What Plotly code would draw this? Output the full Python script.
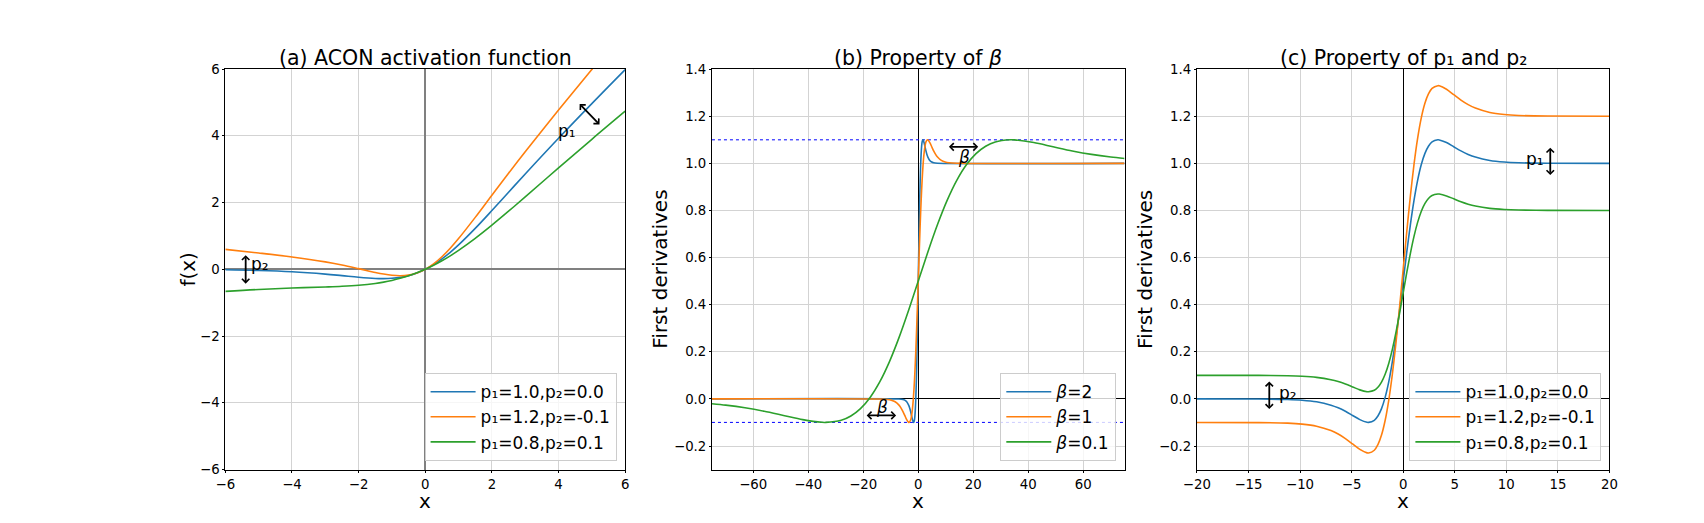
import plotly.graph_objects as go

# ---------------- data ----------------
# (a) ACON activation function f(x)
x_a = [-6, -5, -4, -3, -2.5, -2, -1.5, -1.25, -1, -0.75, -0.5, -0.25, 0,
       0.25, 0.5, 0.75, 1, 1.5, 2, 2.5, 3, 4, 5, 6]
f_p1_10 = [-0.0148, -0.0335, -0.0720, -0.1423, -0.1897, -0.2384, -0.2736, -0.2784,
           -0.2689, -0.2406, -0.1888, -0.1095, 0, 0.1406, 0.3112, 0.5094, 0.7311,
           1.2264, 1.7616, 2.3104, 2.8577, 3.9280, 4.9666, 5.9852]
f_p1_12 = [0.5968, 0.4902, 0.3715, 0.2226, 0.1287, 0.0202, -0.0929, -0.1423,
           -0.1784, -0.1920, -0.1729, -0.1113, 0, 0.1637, 0.3771, 0.6330, 0.9216,
           1.5571, 2.2202, 2.8787, 3.5226, 4.7715, 5.9902, 7.1968]
f_p1_08 = [-0.6620, -0.6026, -0.5605, -0.5291, -0.5091, -0.4770, -0.4222, -0.3824,
           -0.3323, -0.2701, -0.1947, -0.1049, 0, 0.1201, 0.2553, 0.4049, 0.5677,
           0.9278, 1.3231, 1.7409, 2.1709, 3.0395, 3.8974, 4.7380]

# (b) first derivatives for different beta
x_b_beta2 = [-75, -7, -5.6, -4.9, -4.2, -3.5, -3.15, -2.8, -2.45, -2.1, -1.75, -1.68,
             -1.4, -1.225, -1.05, -0.875, -0.7, -0.525, -0.35, -0.175, 0, 0.175, 0.35,
             0.525, 0.7, 0.875, 1.05, 1.225, 1.4, 1.68, 1.75, 2.1, 2.45, 2.8, 3.15,
             3.5, 4.2, 4.9, 5.6, 7, 75]
d_beta2 = [0.0, -0.0005, -0.0024, -0.0055, -0.0123, -0.0266, -0.0379, -0.0527, -0.0703,
           -0.0881, -0.0994, -0.0998, -0.0908, -0.0727, -0.0413, 0.0063, 0.0723, 0.1574,
           0.2600, 0.3763, 0.5, 0.6237, 0.7400, 0.8426, 0.9277, 0.9937, 1.0413, 1.0727,
           1.0908, 1.0998, 1.0994, 1.0881, 1.0703, 1.0527, 1.0379, 1.0266, 1.0123,
           1.0055, 1.0024, 1.0005, 1.0]
x_b_beta1 = [-75, -14, -11.2, -9.8, -8.4, -7, -6.3, -5.6, -4.9, -4.2, -3.5, -3.36,
             -2.8, -2.45, -2.1, -1.75, -1.4, -1.05, -0.7, -0.35, 0, 0.35, 0.7, 1.05,
             1.4, 1.75, 2.1, 2.45, 2.8, 3.36, 3.5, 4.2, 4.9, 5.6, 6.3, 7, 8.4, 9.8,
             11.2, 14, 75]
d_beta1 = [0.0, -0.0005, -0.0024, -0.0055, -0.0123, -0.0266, -0.0379, -0.0527, -0.0703,
           -0.0881, -0.0994, -0.0998, -0.0908, -0.0727, -0.0413, 0.0063, 0.0723, 0.1574,
           0.2600, 0.3763, 0.5, 0.6237, 0.7400, 0.8426, 0.9277, 0.9937, 1.0413, 1.0727,
           1.0908, 1.0998, 1.0994, 1.0881, 1.0703, 1.0527, 1.0379, 1.0266, 1.0123,
           1.0055, 1.0024, 1.0005, 1.0]
x_b_beta01 = [-75, -70, -63, -56, -49, -42, -35, -33.6, -28, -24.5, -21, -17.5, -14,
              -10.5, -7, -3.5, 0, 3.5, 7, 10.5, 14, 17.5, 21, 24.5, 28, 33.6, 35, 42,
              49, 56, 63, 70, 75]
d_beta01 = [-0.0203, -0.0266, -0.0379, -0.0527, -0.0703, -0.0881, -0.0994, -0.0998,
            -0.0908, -0.0727, -0.0413, 0.0063, 0.0723, 0.1574, 0.2600, 0.3763, 0.5,
            0.6237, 0.7400, 0.8426, 0.9277, 0.9937, 1.0413, 1.0727, 1.0908, 1.0998,
            1.0994, 1.0881, 1.0703, 1.0527, 1.0379, 1.0266, 1.0203]
bound_x = [-75, 75]
upper_bound = [1.0998, 1.0998]
lower_bound = [-0.0998, -0.0998]

# (c) first derivatives for different p1, p2
x_c = [-20, -14, -11.2, -9.8, -8.4, -7, -6.3, -5.6, -4.9, -4.2, -3.5, -3.36, -2.8,
       -2.45, -2.1, -1.75, -1.4, -1.05, -0.7, -0.35, 0, 0.35, 0.7, 1.05, 1.4, 1.75,
       2.1, 2.45, 2.8, 3.36, 3.5, 4.2, 4.9, 5.6, 6.3, 7, 8.4, 9.8, 11.2, 14, 20]
d_p1_10 = [0.0, -0.0005, -0.0024, -0.0055, -0.0123, -0.0266, -0.0379, -0.0527, -0.0703,
           -0.0881, -0.0994, -0.0998, -0.0908, -0.0727, -0.0413, 0.0063, 0.0723, 0.1574,
           0.2600, 0.3763, 0.5, 0.6237, 0.7400, 0.8426, 0.9277, 0.9937, 1.0413, 1.0727,
           1.0908, 1.0998, 1.0994, 1.0881, 1.0703, 1.0527, 1.0379, 1.0266, 1.0123,
           1.0055, 1.0024, 1.0005, 1.0]
d_p1_12 = [-0.1, -0.1007, -0.1031, -0.1072, -0.1160, -0.1346, -0.1493, -0.1685, -0.1914,
           -0.2145, -0.2292, -0.2297, -0.2180, -0.1945, -0.1537, -0.0918, -0.0060, 0.1046,
           0.2380, 0.3892, 0.55, 0.7108, 0.8620, 0.9954, 1.1060, 1.1918, 1.2537, 1.2945,
           1.3180, 1.3297, 1.3292, 1.3145, 1.2914, 1.2685, 1.2493, 1.2346, 1.2160,
           1.2072, 1.2031, 1.2007, 1.2]
d_p1_08 = [0.1, 0.0997, 0.0983, 0.0962, 0.0914, 0.0814, 0.0735, 0.0631, 0.0508, 0.0383,
           0.0304, 0.0301, 0.0364, 0.0491, 0.0711, 0.1044, 0.1506, 0.2102, 0.2820, 0.3634,
           0.45, 0.5366, 0.6180, 0.6898, 0.7494, 0.7956, 0.8289, 0.8509, 0.8636, 0.8699,
           0.8696, 0.8617, 0.8492, 0.8369, 0.8265, 0.8186, 0.8086, 0.8039, 0.8017,
           0.8004, 0.8]

p_labels = ["p₁=1.0,p₂=0.0", "p₁=1.2,p₂=-0.1", "p₁=0.8,p₂=0.1"]
beta_labels = ["<i>β</i>=2", "<i>β</i>=1", "<i>β</i>=0.1"]
colors = ["#1f77b4", "#ff7f0e", "#2ca02c"]
FONT = "DejaVu Sans"

fig = go.Figure()

# (a)
for y, name, c in zip([f_p1_10, f_p1_12, f_p1_08], p_labels, colors):
    fig.add_trace(go.Scatter(x=x_a, y=y, name=name, mode="lines",
                             line=dict(color=c, width=1.6, shape="spline"),
                             xaxis="x", yaxis="y", legend="legend"))

# (b) dotted bounds
for yb in [upper_bound, lower_bound]:
    fig.add_trace(go.Scatter(x=bound_x, y=yb, mode="lines", showlegend=False,
                             line=dict(color="blue", width=1, dash="dot"),
                             xaxis="x2", yaxis="y2", hoverinfo="skip"))
for xs, y, name, c in zip([x_b_beta2, x_b_beta1, x_b_beta01],
                          [d_beta2, d_beta1, d_beta01], beta_labels, colors):
    fig.add_trace(go.Scatter(x=xs, y=y, name=name, mode="lines",
                             line=dict(color=c, width=1.6, shape="spline", smoothing=0.8),
                             xaxis="x2", yaxis="y2", legend="legend2"))

# (c)
for y, name, c in zip([d_p1_10, d_p1_12, d_p1_08], p_labels, colors):
    fig.add_trace(go.Scatter(x=x_c, y=y, name=name, mode="lines",
                             line=dict(color=c, width=1.6, shape="spline", smoothing=0.8),
                             xaxis="x3", yaxis="y3", legend="legend3"))

dom_y = [0.1052, 0.8935]
dom_x = [[0.1209, 0.3586], [0.4102, 0.6555], [0.6985, 0.9438]]

axis_style = dict(showline=True, linecolor="black", linewidth=1, mirror=True,
                  ticks="outside", ticklen=2, tickwidth=1, tickcolor="black",
                  showgrid=True, gridcolor="#d3d3d3", gridwidth=1,
                  tickfont=dict(family=FONT, size=13.3, color="black"))

fig.update_layout(
    width=1704, height=523,
    margin=dict(l=0, r=0, t=0, b=0),
    paper_bgcolor="white", plot_bgcolor="white",
    font=dict(family=FONT, color="black"),
    xaxis=dict(domain=dom_x[0], anchor="y", range=[-6, 6], tickvals=[-6, -4, -2, 0, 2, 4, 6],
               zeroline=True, zerolinecolor="#808080", zerolinewidth=2, **axis_style),
    yaxis=dict(domain=dom_y, anchor="x", range=[-6, 6], tickvals=[-6, -4, -2, 0, 2, 4, 6],
               zeroline=True, zerolinecolor="#808080", zerolinewidth=2, **axis_style),
    xaxis2=dict(domain=dom_x[1], anchor="y2", range=[-75, 75],
                tickvals=[-60, -40, -20, 0, 20, 40, 60],
                zeroline=True, zerolinecolor="black", zerolinewidth=1, **axis_style),
    yaxis2=dict(domain=dom_y, anchor="x2", range=[-0.3, 1.4],
                tickvals=[-0.2, 0, 0.2, 0.4, 0.6, 0.8, 1.0, 1.2, 1.4], tickformat=".1f",
                zeroline=True, zerolinecolor="black", zerolinewidth=1, **axis_style),
    xaxis3=dict(domain=dom_x[2], anchor="y3", range=[-20, 20],
                tickvals=[-20, -15, -10, -5, 0, 5, 10, 15, 20],
                zeroline=True, zerolinecolor="black", zerolinewidth=1, **axis_style),
    yaxis3=dict(domain=dom_y, anchor="x3", range=[-0.3, 1.4],
                tickvals=[-0.2, 0, 0.2, 0.4, 0.6, 0.8, 1.0, 1.2, 1.4], tickformat=".1f",
                zeroline=True, zerolinecolor="black", zerolinewidth=1, **axis_style),
)

legend_style = dict(xanchor="right", yanchor="bottom", y=0.1218, itemwidth=45,
                    bgcolor="rgba(255,255,255,0.8)", bordercolor="#cccccc", borderwidth=1,
                    font=dict(family=FONT, size=17, color="black"))
fig.update_layout(legend=dict(x=0.3535, **legend_style),
                  legend2=dict(x=0.6506, **legend_style),
                  legend3=dict(x=0.9390, **legend_style))

# titles
titles = ["(a) ACON activation function", "(b) Property of <i>β</i>",
          "(c) Property of p₁ and p₂"]
for (x0, x1), t in zip(dom_x, titles):
    fig.add_annotation(text=t, xref="paper", yref="paper", x=(x0 + x1) / 2, y=dom_y[1],
                       xanchor="center", yanchor="bottom", showarrow=False, yshift=-3,
                       font=dict(family=FONT, size=20.5, color="black"))

# axis labels
for (x0, x1) in dom_x:
    fig.add_annotation(text="x", xref="paper", yref="paper", x=(x0 + x1) / 2, y=0.0440,
                       xanchor="center", yanchor="middle", showarrow=False,
                       font=dict(family=FONT, size=20, color="black"))
for xp, t in zip([0.0988, 0.3795, 0.6680], ["f(x)", "First derivatives", "First derivatives"]):
    fig.add_annotation(text=t, xref="paper", yref="paper", x=xp, y=0.4992, textangle=-90,
                       xanchor="center", yanchor="middle", showarrow=False,
                       font=dict(family=FONT, size=20, color="black"))

# double arrows and labels
arrows = [
    ("x", "y", 5.23, 4.34, 4.59, 5.0),
    ("x", "y", -5.39, -0.43, -5.39, 0.47),
    ("x2", "y2", 21.8, 1.07, 10.6, 1.07),
    ("x2", "y2", -8.05, -0.07, -19.3, -0.07),
    ("x3", "y3", 14.26, 0.95, 14.26, 1.073),
    ("x3", "y3", -12.98, -0.043, -12.98, 0.08),
]
for xr, yr, x, y, ax, ay in arrows:
    fig.add_annotation(x=x, y=y, ax=ax, ay=ay, xref=xr, yref=yr, axref=xr, ayref=yr,
                       text="", showarrow=True, arrowhead=4, startarrowhead=4,
                       arrowside="end+start", arrowsize=0.8, startarrowsize=0.8,
                       arrowwidth=1.8, arrowcolor="black")

labels = [
    ("x", "y", 4.24, 4.15, "p₁"),
    ("x", "y", -4.97, 0.15, "p₂"),
    ("x2", "y2", 16.8, 1.025, "<i>β</i>"),
    ("x2", "y2", -13.1, -0.033, "<i>β</i>"),
    ("x3", "y3", 12.8, 1.018, "p₁"),
    ("x3", "y3", -11.16, 0.026, "p₂"),
]
for xr, yr, x, y, t in labels:
    fig.add_annotation(x=x, y=y, xref=xr, yref=yr, text=t, showarrow=False,
                       font=dict(family=FONT, size=17, color="black"))

fig.write_html("out.html")
